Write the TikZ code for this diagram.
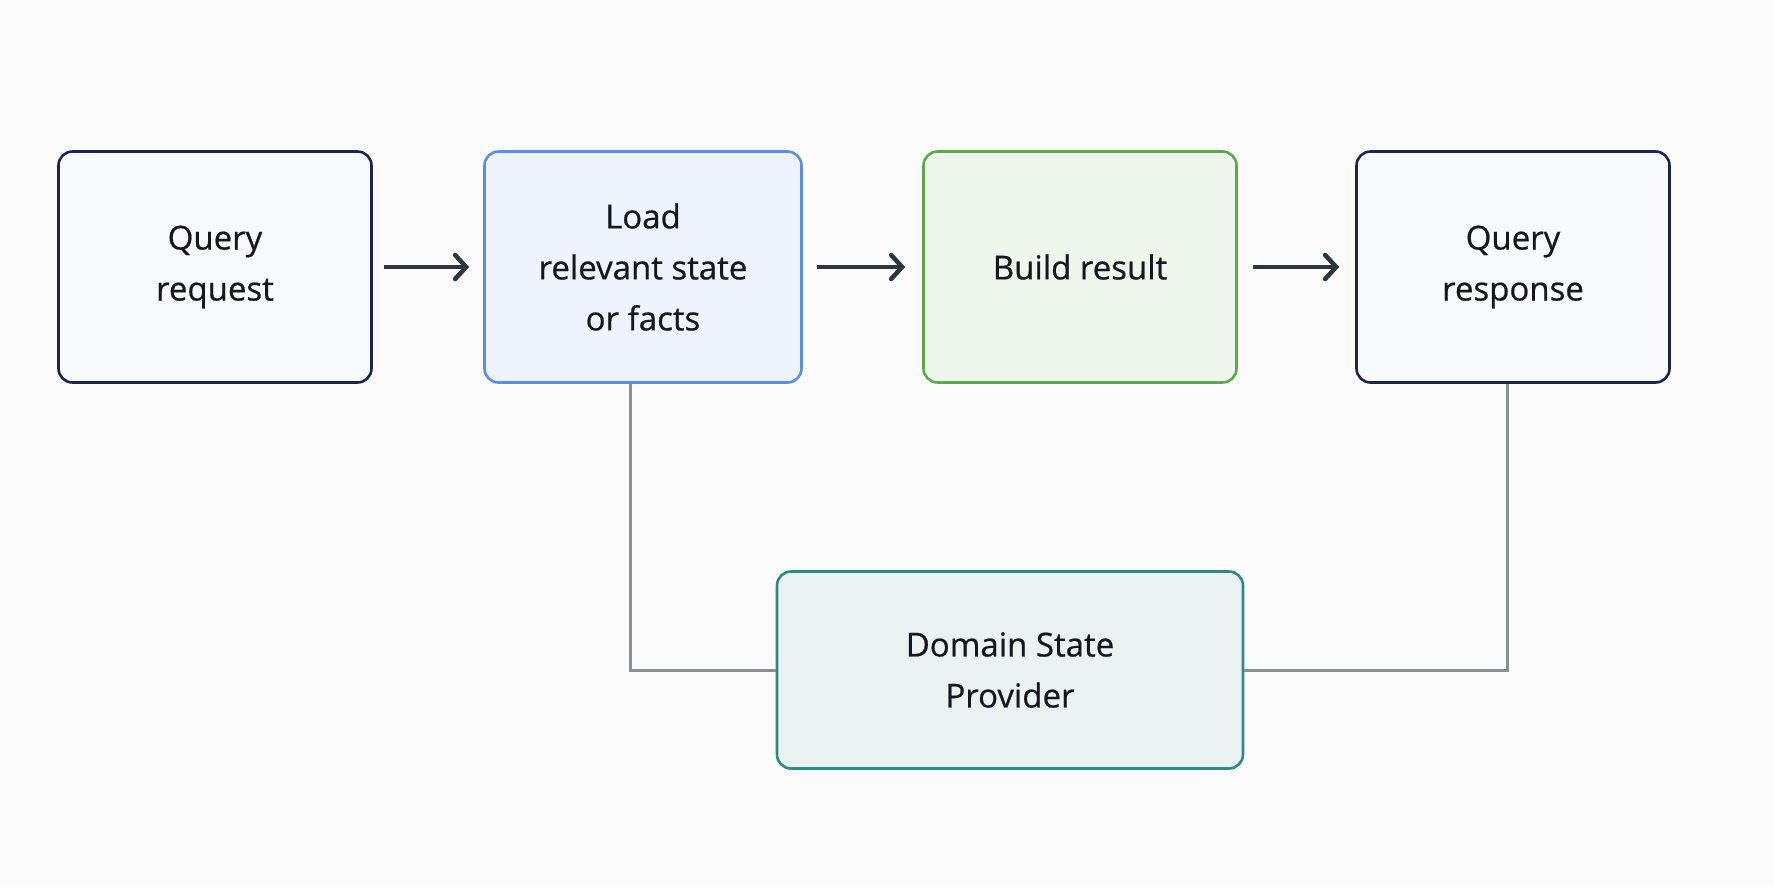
\documentclass[tikz,border=0pt]{standalone}
\usepackage{fontspec}
\setmainfont{Open Sans}
\newfontfamily\labfont{Open Sans}[FakeBold=0.6]
\usetikzlibrary{arrows.meta}
\definecolor{navy}{HTML}{1B2452}
\definecolor{navyfill}{HTML}{F8F9FC}
\definecolor{blueb}{HTML}{5B8EE6}
\definecolor{bluefill}{HTML}{EFF3FD}
\definecolor{greenb}{HTML}{5AAA4A}
\definecolor{greenfill}{HTML}{EFF6EC}
\definecolor{tealb}{HTML}{2E8B84}
\definecolor{tealfill}{HTML}{EAF3F2}
\definecolor{linkgray}{HTML}{8A8D94}
\definecolor{arrowdark}{HTML}{2D3540}
\definecolor{bg}{HTML}{FBFBFB}
\definecolor{txt}{HTML}{15181E}
\tikzset{
  x=1pt, y=-1pt,
  box/.style={draw, line width=2.6pt, rounded corners=14pt, minimum width=313pt, minimum height=231pt,
    align=center, font=\labfont\fontsize{33}{51}\selectfont, text=txt, inner sep=0pt},
  plainbox/.style={box, draw=navy, fill=navyfill},
  bluebox/.style={box, draw=blueb, fill=bluefill},
  greenbox/.style={box, draw=greenb, fill=greenfill},
  tealbox/.style={box, draw=tealb, fill=tealfill, minimum width=466pt, minimum height=197pt},
  flow/.style={draw=arrowdark, line width=4.5pt, -{Straight Barb[length=11pt, width=24pt, line width=4.5pt, line cap=round]}},
  link/.style={draw=linkgray, line width=3pt},
}
\begin{document}
\begin{tikzpicture}
\fill[bg] (0,0) rectangle (1774,887);
\useasboundingbox (0,0) rectangle (1774,887);
\node[plainbox] (req) at (215,267) {Query\\request};
\node[bluebox, minimum width=317pt] (load) at (643,267) {Load\\relevant state\\or facts};
\node[greenbox] (build) at (1080,267) {Build result};
\node[plainbox] (resp) at (1513,267) {Query\\response};
\node[tealbox] (dom) at (1010,670) {Domain State\\Provider};
\draw[flow] ([xshift=11pt]req.east) -- ([xshift=-14pt]load.west);
\draw[flow] ([xshift=14pt]load.east) -- ([xshift=-17pt]build.west);
\draw[flow] ([xshift=15pt]build.east) -- ([xshift=-16pt]resp.west);
\coordinate (c1) at (630,670);
\coordinate (c2) at (1507,670);
\draw[link] (load.south -| c1) -- (c1) -- (dom.west);
\draw[link] (dom.east) -- (c2) -- (resp.south -| c2);
\end{tikzpicture}
\end{document}
